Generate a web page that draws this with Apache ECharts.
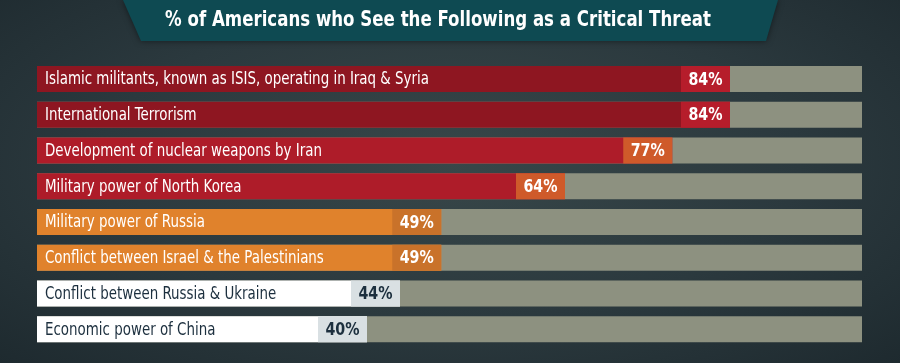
<!DOCTYPE html>
<html><head><meta charset="utf-8">
<script src="https://cdn.jsdelivr.net/npm/echarts@6/dist/echarts.min.js"></script>
<style>
html,body{margin:0;padding:0;width:900px;height:363px;overflow:hidden;}
body{background:#2a383d;background-image:radial-gradient(ellipse at 50% 45%, #384749 0%, #2b393e 55%, #1e2a2f 100%);}
#c{width:900px;height:363px;}
</style></head>
<body><div id="c"></div>
<script>
var titleText = '% of Americans who See the Following as a Critical Threat';
var categories = [
  'Islamic militants, known as ISIS, operating in Iraq & Syria',
  'International Terrorism',
  'Development of nuclear weapons by Iran',
  'Military power of North Korea',
  'Military power of Russia',
  'Conflict between Israel & the Palestinians',
  'Conflict between Russia & Ukraine',
  'Economic power of China'
];
var values = [84, 84, 77, 64, 49, 49, 44, 40];
var fullScale = [100, 100, 100, 100, 100, 100, 100, 100];
var groups = ['dark', 'dark', 'red', 'red', 'orange', 'orange', 'white', 'white'];

var palette = {
  dark:   {bar:'#8e1621', box:'#b61d2b', text:'#ffffff', val:'#ffffff'},
  red:    {bar:'#ae1c29', box:'#cf5a2a', text:'#ffffff', val:'#ffffff'},
  orange: {bar:'#e0822c', box:'#c9722a', text:'#ffffff', val:'#ffffff'},
  white:  {bar:'#ffffff', box:'#d9e0e3', text:'#1c2f3e', val:'#1c2f3e'}
};
var FONT = '"Liberation Sans Narrow", "DejaVu Sans Condensed", "Liberation Sans", sans-serif';

var chart = echarts.init(document.getElementById('c'), null, {renderer:'canvas'});
chart.setOption({
  backgroundColor: 'transparent',
  animation: false,
  graphic: [
    {type:'polygon', shape:{points:[[123,0],[778,0],[766,41],[141,41]]}, style:{fill:'#0e4a52', shadowBlur:6, shadowColor:'rgba(0,0,0,0.5)'}, z:1},
    {type:'text', x:438, y:21, scaleX:0.88, scaleY:1, originX:0, originY:0,
     style:{text:titleText, fill:'#ffffff', font:'bold 21px ' + FONT, align:'center', verticalAlign:'middle'}, z:2}
  ],
  grid: {left:37, right:38, top:61, bottom:16},
  xAxis: {type:'value', min:0, max:100, show:false},
  yAxis: {type:'category', data:categories, inverse:true, show:false},
  series: [
    {type:'bar', data:fullScale, barWidth:26, itemStyle:{color:'#8d9180'}, silent:true, z:1},
    {type:'bar', barGap:'-100%', barWidth:26, z:2,
     data: values.map(function(v,i){ return {value:v, itemStyle:{color:palette[groups[i]].bar}}; })
    },
    {type:'custom', z:3,
     data: values.map(function(v,i){ return [v, i]; }),
     renderItem:function(params, api){
       var i = params.dataIndex;
       var end = api.coord([api.value(0), i]);
       var start = api.coord([0, i]);
       var h = 26, w = 49;
       var pal = palette[groups[i]];
       return {type:'group', children:[
         {type:'rect', shape:{x:end[0]-w, y:end[1]-h/2, width:w, height:h}, style:{fill:pal.box}},
         {type:'text', x:end[0]-w/2, y:end[1]+1, scaleX:0.88,
          style:{x:0, y:0, text:values[i] + '%', fill:pal.val, font:'bold 18px ' + FONT, align:'center', verticalAlign:'middle'}},
         {type:'text', x:start[0]+8, y:end[1]+1, scaleX:0.877,
          style:{x:0, y:0, text:categories[i], fill:pal.text, font:'17px ' + FONT, align:'left', verticalAlign:'middle'}}
       ]};
     }
    }
  ]
});
</script>
</body></html>
